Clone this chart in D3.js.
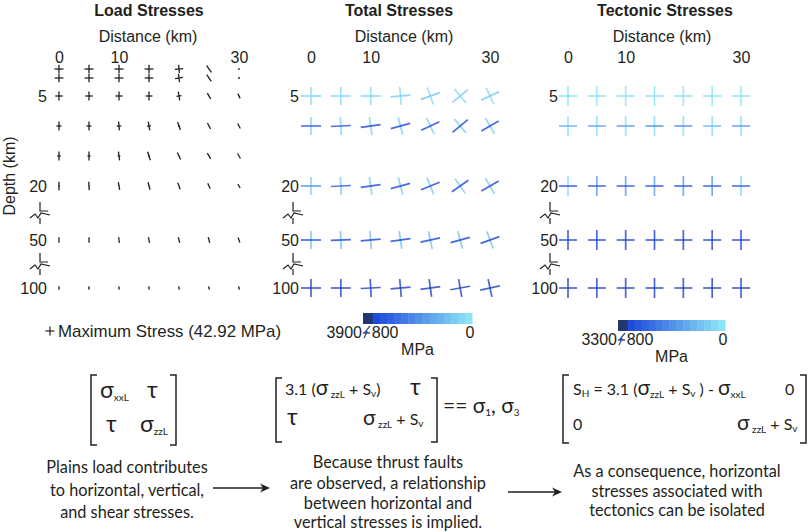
<!DOCTYPE html>
<html>
<head>
<meta charset="utf-8">
<script src="https://cdn.jsdelivr.net/npm/d3@7"></script>
<style>
  body { margin: 0; background: #fff; }
  svg { display: block; }
  text { font-family: "Liberation Sans", Arial, sans-serif; fill: #231f20; }
  .note { font-family: Lato, "Open Sans", sans-serif; }
</style>
</head>
<body>
<div id="chart"></div>
<script>
// ---- data ----
var distances = [0, 5, 10, 15, 20, 25, 30];   // km, columns of every panel
var xTicks = [0, 10, 30];
var depthTicks = [5, 20, 50, 100];
var depthBreaks = [35, 75];                  // where the depth axis is cut

// load stresses (MPa) and tilt of the stress cross (deg, negative = "\")
var maxLoadStress = 42.92;
var loadDepths = [0.5, 2, 5, 10, 15, 20, 50, 100];
var loadVertical = [
  [40, 40, 40, 40, 40, 40, 8],
  [40, 40, 40, 40, 40, 38, 10],
  [42, 42, 42, 42, 42, 32, 25],
  [42, 42, 42, 42, 40, 32, 27],
  [42, 42, 42, 42, 37, 32, 27],
  [40, 40, 38, 37, 33, 28, 22],
  [27, 27, 27, 27, 27, 27, 25],
  [16, 16, 16, 16, 16, 16, 16]
];
var loadHorizontal = [
  [42.9, 42.9, 42.9, 42.5, 40, 3, 3],
  [42, 42, 42, 41, 38, 3, 2],
  [36, 36, 35, 33, 24, 2, 2],
  [24, 24, 22, 18, 9, 2, 1],
  [17, 15, 13, 8, 4, 1, 1],
  [6, 5, 4, 3, 2, 1, 1],
  [0, 0, 0, 0, 0, 0, 0],
  [0, 0, 0, 0, 0, 0, 0]
];
var loadTilt = [
  [0, 0, 0, 0, -5, -35, -30],
  [0, 0, 0, 0, -8, -35, -25],
  [0, 0, 0, 0, -10, -30, -25],
  [0, 0, -5, -10, -20, -28, -28],
  [0, 0, -8, -18, -25, -30, -30],
  [0, -3, -10, -15, -20, -25, -30],
  [0, 0, -8, -10, -15, -15, -20],
  [0, 0, -5, -5, -10, -10, -10]
];

// total stresses (MPa)
var totalDepths = [5, 10, 20, 50, 100];
var totalHorizontal = [
  [120, 120, 130, 150, 200, 160, 200],
  [700, 750, 800, 850, 950, 1000, 900],
  [450, 700, 800, 850, 1000, 1200, 950],
  [900, 950, 1000, 1000, 1050, 1100, 1100],
  [1700, 1700, 1700, 1800, 1800, 1800, 1800]
];
var totalVertical = [
  [70, 70, 70, 70, 70, 70, 70],
  [120, 120, 120, 120, 120, 120, 120],
  [150, 150, 150, 150, 150, 150, 150],
  [200, 200, 200, 200, 200, 200, 200],
  [1500, 1500, 1500, 1500, 1500, 1500, 1500]
];
var totalTilt = [
  [0, 0, 0, -5, -20, -40, -25],
  [0, -3, -8, -15, -25, -40, -30],
  [0, -3, -8, -15, -22, -35, -30],
  [0, -2, -5, -8, -12, -15, -20],
  [0, 0, -3, -5, -8, -10, -12]
];

// tectonic stresses (MPa)
var tectDepths = [5, 10, 20, 50, 100];
var tectHorizontal = [
  [60, 60, 60, 60, 60, 60, 60],
  [300, 350, 400, 450, 450, 250, 400],
  [750, 700, 700, 750, 750, 700, 700],
  [1000, 1000, 1000, 1000, 1000, 1000, 1000],
  [1500, 1500, 1500, 1500, 1500, 1500, 1500]
];
var tectVertical = [
  [40, 40, 40, 40, 40, 40, 40],
  [60, 60, 60, 60, 60, 60, 60],
  [80, 400, 400, 350, 400, 400, 100],
  [900, 900, 900, 900, 900, 900, 900],
  [1400, 1400, 1400, 1400, 1400, 1400, 1400]
];

var totalColorDomain = [0, 800, 3900];
var tectColorDomain = [0, 800, 3300];
var colorRange = ["#90eafa", "#1b45da", "#23366f"];

// ---- drawing ----
var W = 809, H = 532;
var svg = d3.select("#chart").append("svg").attr("width", W).attr("height", H);

var y = d3.scaleLinear().domain([0, 20, 50, 100]).range([66, 186, 240, 288]);
var loadLen = d3.scaleLinear().domain([0, maxLoadStress]).range([0, 9]);
var totalColor = d3.scaleLinear().domain(totalColorDomain).range(colorRange);
var tectColor = d3.scaleLinear().domain(tectColorDomain).range(colorRange);

var panels = [
  {title: "Load Stresses", titleX: 149, labelX: 148, x: d3.scaleLinear().domain([0, 30]).range([59, 239]), axisX: 49, breakX: 40},
  {title: "Total Stresses", titleX: 399, labelX: 404, x: d3.scaleLinear().domain([0, 30]).range([311, 490]), axisX: 301, breakX: 293},
  {title: "Tectonic Stresses", titleX: 665, labelX: 662, x: d3.scaleLinear().domain([0, 30]).range([568, 741]), axisX: 560, breakX: 550}
];

function grid(depths, a, b, t) {
  var out = [];
  depths.forEach(function(dep, i) {
    distances.forEach(function(dist, j) {
      out.push({depth: dep, dist: dist, h: a[i][j], v: b[i][j], tilt: t ? t[i][j] : 0});
    });
  });
  return out;
}

panels.forEach(function(p) {
  svg.append("text").attr("x", p.titleX).attr("y", 16).attr("text-anchor", "middle")
    .attr("font-size", 16).attr("font-weight", "bold").text(p.title);
  svg.append("text").attr("x", p.labelX).attr("y", 42).attr("text-anchor", "middle")
    .attr("font-size", 16).text("Distance (km)");

  var gx = svg.append("g").attr("transform", "translate(0,63)")
    .call(d3.axisTop(p.x).tickValues(xTicks).tickSize(0).tickPadding(0));
  gx.select(".domain").remove();
  gx.selectAll("text").attr("font-size", 16).attr("font-family", null).attr("fill", "#231f20");

  var gy = svg.append("g").attr("transform", "translate(" + p.axisX + ",0)")
    .call(d3.axisLeft(y).tickValues(depthTicks).tickSize(0).tickPadding(2));
  gy.select(".domain").remove();
  gy.selectAll("text").attr("font-size", 16).attr("font-family", null).attr("fill", "#231f20");

  // axis breaks
  svg.selectAll(null).data(depthBreaks).enter().append("path")
    .attr("transform", function(d) { return "translate(" + p.breakX + "," + y(d) + ")"; })
    .attr("d", "M0,-11V-2H8M-10,5L-5,1L-2,5L1,0L10,2M0,5V11")
    .attr("fill", "none").attr("stroke", "#231f20").attr("stroke-width", 1.2);
});

svg.append("text").attr("transform", "translate(15,176) rotate(-90)")
  .attr("text-anchor", "middle").attr("font-size", 16).text("Depth (km)");

// load crosses
var px = panels[0].x;
var loadCells = svg.append("g").selectAll("g")
  .data(grid(loadDepths, loadHorizontal, loadVertical, loadTilt)).enter().append("g")
  .attr("transform", function(d) { return "translate(" + px(d.dist) + "," + y(d.depth) + ") rotate(" + d.tilt + ")"; })
  .attr("stroke", "#231f20").attr("stroke-width", 1.3);
loadCells.append("line")
  .attr("x1", function(d) { return -loadLen(d.h) / 2; }).attr("x2", function(d) { return loadLen(d.h) / 2; });
loadCells.append("line")
  .attr("y1", function(d) { return -loadLen(d.v) / 2; }).attr("y2", function(d) { return loadLen(d.v) / 2; });

// coloured crosses
function colourCrosses(p, cells, color, arm) {
  var g = svg.append("g").selectAll("g").data(cells).enter().append("g")
    .attr("transform", function(d) { return "translate(" + p.x(d.dist) + "," + y(d.depth) + ") rotate(" + d.tilt + ")"; })
    .attr("stroke-width", 1.7).attr("stroke-opacity", 0.8);
  g.append("line").attr("y1", -arm[1] / 2).attr("y2", arm[1] / 2)
    .attr("stroke", function(d) { return color(d.v); });
  g.append("line").attr("x1", -arm[0] / 2).attr("x2", arm[0] / 2)
    .attr("stroke", function(d) { return color(d.h); });
}
colourCrosses(panels[1], grid(totalDepths, totalHorizontal, totalVertical, totalTilt), totalColor, [20, 18]);
colourCrosses(panels[2], grid(tectDepths, tectHorizontal, tectVertical), tectColor, [18, 20]);

// max stress legend
var lg = svg.append("g").attr("transform", "translate(50,331)").attr("stroke", "#231f20").attr("stroke-width", 1.2);
lg.append("line").attr("x1", -loadLen(maxLoadStress) / 2).attr("x2", loadLen(maxLoadStress) / 2);
lg.append("line").attr("y1", -loadLen(maxLoadStress) / 2).attr("y2", loadLen(maxLoadStress) / 2);
svg.append("text").attr("x", 58).attr("y", 337).attr("font-size", 17)
  .attr("textLength", 223).attr("lengthAdjust", "spacingAndGlyphs")
  .text("Maximum Stress (" + maxLoadStress + " MPa)");

// colour bars
function colourBar(domain, color, x0, x1, top, h) {
  var max = domain[2], mid = domain[1];
  var cx = d3.scaleLinear().domain([max, mid, 0]).range([x0, x0 + (x1 - x0) * 0.09, x1]);
  var bins = [[mid, max]].concat(d3.range(14).map(function(i) { return [mid * (13 - i) / 14, mid * (14 - i) / 14]; }));
  svg.append("g").selectAll("rect").data(bins).enter().append("rect")
    .attr("x", function(d) { return cx(d[1]); })
    .attr("width", function(d) { return cx(d[0]) - cx(d[1]) + 0.5; })
    .attr("y", top).attr("height", h)
    .attr("fill", function(d, i) { return i === 0 ? color(max) : color((d[0] + d[1]) / 2); });
  var base = top + h + 14;
  svg.append("text").attr("x", cx(max) - 1).attr("y", base).attr("text-anchor", "end").attr("font-size", 16).text(max);
  svg.append("text").attr("x", cx(mid) - 1).attr("y", base).attr("font-size", 16).text(mid);
  svg.append("text").attr("x", cx(0) - 2).attr("y", base).attr("text-anchor", "middle").attr("font-size", 16).text(0);
  svg.append("path").attr("transform", "translate(" + (cx(max) + 4) + "," + (base - 6) + ")")
    .attr("d", "M-3,6L0,0L-2,0L3,-6M-4,1H3").attr("fill", "none").attr("stroke", "#3a4f8f").attr("stroke-width", 1.3);
  svg.append("text").attr("x", (x0 + x1) / 2).attr("y", base + 17).attr("text-anchor", "middle").attr("font-size", 16).text("MPa");
}
colourBar(totalColorDomain, totalColor, 363, 472, 313, 11);
colourBar(tectColorDomain, tectColor, 618, 725, 320, 11);

// ---- equations and notes ----
function rich(x, yy, parts, anchor) {
  var t = svg.append("text").attr("class", "note").attr("x", x).attr("y", yy);
  if (anchor) t.attr("text-anchor", anchor);
  var cur = 0;
  parts.forEach(function(pt) {
    var s = pt[2] || 0;
    t.append("tspan").attr("font-size", pt[1]).attr("dy", s - cur).text(pt[0]);
    cur = s;
  });
  return t;
}
function bracket(x0, x1, top, bot) {
  svg.append("path").attr("d", "M" + (x0 + 6) + "," + top + "H" + x0 + "V" + bot + "H" + (x0 + 6) +
      "M" + (x1 - 6) + "," + top + "H" + x1 + "V" + bot + "H" + (x1 - 6))
    .attr("fill", "none").attr("stroke", "#231f20").attr("stroke-width", 1.5);
}
function arrow(x0, x1, yy) {
  svg.append("line").attr("x1", x0).attr("x2", x1 - 6).attr("y1", yy).attr("y2", yy)
    .attr("stroke", "#231f20").attr("stroke-width", 1.5);
  svg.append("path").attr("d", "M" + x1 + "," + yy + "L" + (x1 - 10) + "," + (yy - 4.5) + "L" + (x1 - 7) + "," + yy + "L" + (x1 - 10) + "," + (yy + 4.5) + "Z")
    .attr("fill", "#231f20");
}

bracket(91, 176, 375, 445);
rich(100, 398, [["σ", 23], ["xxL", 10, 3]]);
rich(147, 398, [["τ", 23]]);
rich(106, 432, [["τ", 23]]);
rich(140, 432, [["σ", 23], ["zzL", 10, 3]]);

bracket(276, 437, 378, 442);
rich(285, 395, [["3.1 (", 16], ["σ", 21], [" zzL", 10, 3], [" + S", 16], ["v", 10, 2], [")", 16]]);
rich(410, 395, [["τ", 23]]);
rich(287, 425, [["τ", 23]]);
rich(363, 425, [["σ", 21], [" zzL", 10, 3], [" + S", 16], ["v", 10, 2]]);
rich(443, 413, [["== σ", 21], ["1", 10, 3], [", σ", 21], ["3", 10, 3]]);

bracket(563, 806, 375, 443);
rich(573, 395, [["S", 16], ["H", 10, 2], [" = 3.1 (", 16], ["σ", 21], ["zzL", 10, 3], [" + S", 16], ["v", 10, 2],
  [" ) - ", 16], ["σ", 21], ["xxL", 10, 3]]);
rich(785, 395, [["0", 16]]);
rich(573, 430, [["0", 16]]);
rich(737, 430, [["σ", 21], [" zzL", 10, 3], [" + S", 16], ["v", 10, 2]]);

var notes = [
  {x: 127, lines: ["Plains load contributes", "to horizontal, vertical,", "and shear stresses."], base: [473, 496, 518]},
  {x: 388, lines: ["Because thrust faults", "are observed, a relationship", "between horizontal and", "vertical stresses is implied."], base: [468, 489, 509, 528]},
  {x: 677, lines: ["As a consequence, horizontal", "stresses associated with", "tectonics can be isolated"], base: [477, 497, 516]}
];
notes.forEach(function(n) {
  n.lines.forEach(function(l, i) {
    rich(n.x, n.base[i], [[l, 16.3]], "middle");
  });
});
arrow(213, 270, 488);
arrow(508, 562, 492);
</script>
</body>
</html>
